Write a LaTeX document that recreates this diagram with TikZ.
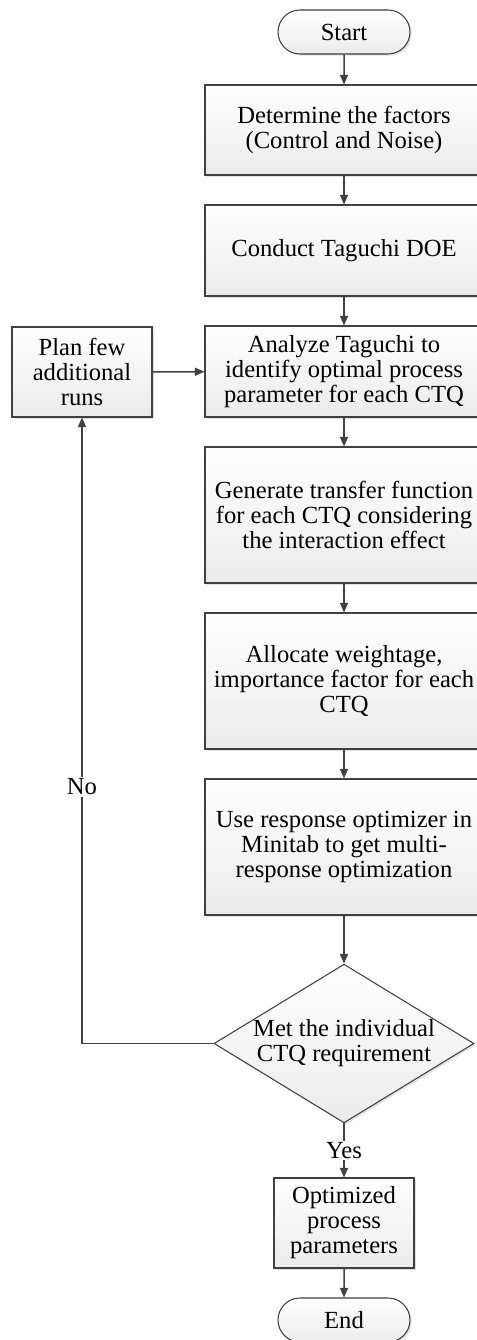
\documentclass[tikz,border=0pt]{standalone}
\usepackage{fontspec}
\setmainfont{Liberation Serif}
\usetikzlibrary{arrows.meta,shapes.geometric,shapes.misc,shadows}
\definecolor{linegray}{HTML}{404040}
\tikzset{
  base/.style={draw=linegray, line width=0.6pt, top color=white, bottom color=gray!16,
    drop shadow={shadow xshift=1pt, shadow yshift=-1pt, fill=gray!40, opacity=0.6},
    align=center, font=\fontsize{14}{14.2}\selectfont, inner sep=2pt},
  procbox/.style={base, rectangle, minimum width=5.56cm},
  sidebox/.style={base, rectangle, minimum width=2.8cm, minimum height=1.8cm},
  termbox/.style={base, rounded rectangle, minimum width=2.78cm, minimum height=0.88cm},
  decbox/.style={base, diamond, minimum width=5.2cm, minimum height=3.06cm, inner sep=-10pt},
  arr/.style={draw=linegray, line width=0.85pt, -{Triangle[length=5.5pt,width=4.6pt]}},
  lbl/.style={fill=white, inner sep=1pt, font=\fontsize{14}{14.2}\selectfont}
}

\begin{document}
\begin{tikzpicture}
    %%%%% START %%%%%
    \useasboundingbox (0,0) rectangle (9.52,-26.8);

    \node[termbox] (start) at (6.88,-0.64) {Start};
    \node[procbox, minimum height=1.8cm] (factors) at (6.88,-2.6) {Determine the factors\\(Control and Noise)};
    \node[procbox, minimum height=1.82cm] (doe) at (6.88,-5.01) {Conduct Taguchi DOE};
    \node[procbox, minimum height=1.82cm] (analyze) at (6.88,-7.43) {Analyze Taguchi to\\identify optimal process\\parameter for each CTQ};
    \node[sidebox] (plan) at (1.64,-7.44) {Plan few\\additional\\runs};

    \node[procbox, minimum height=2.72cm] (transfer) at (6.88,-10.3) {Generate transfer function\\for each CTQ considering\\the interaction effect};
    \node[procbox, minimum height=2.72cm] (weight) at (6.88,-13.62) {Allocate weightage,\\importance factor for each\\CTQ};
    \node[procbox, minimum height=2.72cm] (optimizer) at (6.88,-16.94) {Use response optimizer in\\Minitab to get multi-\\response optimization};

    \node[decbox] (check) at (6.88,-20.87) {Met the individual\\CTQ requirement};
    \node[sidebox] (params) at (6.88,-24.46) {Optimized\\process\\parameters};
    \node[termbox] (end) at (6.88,-26.4) {End};

    \draw[arr] (start) -- (factors);
    \draw[arr] (factors) -- (doe);
    \draw[arr] (doe) -- (analyze);
    \draw[arr] (plan) -- (analyze);
    \draw[arr] (analyze) -- (transfer);
    \draw[arr] (transfer) -- (weight);
    \draw[arr] (weight) -- (optimizer);
    \draw[arr] (optimizer) -- (check);
    \draw[arr] (check) -- node[lbl] {Yes} (params);
    \draw[arr] (params) -- (end);
    \draw[arr] (check.west) -| node[lbl, pos=0.705] {No} (plan.south);

    %%%%% END %%%%%
\end{tikzpicture}
\end{document}
